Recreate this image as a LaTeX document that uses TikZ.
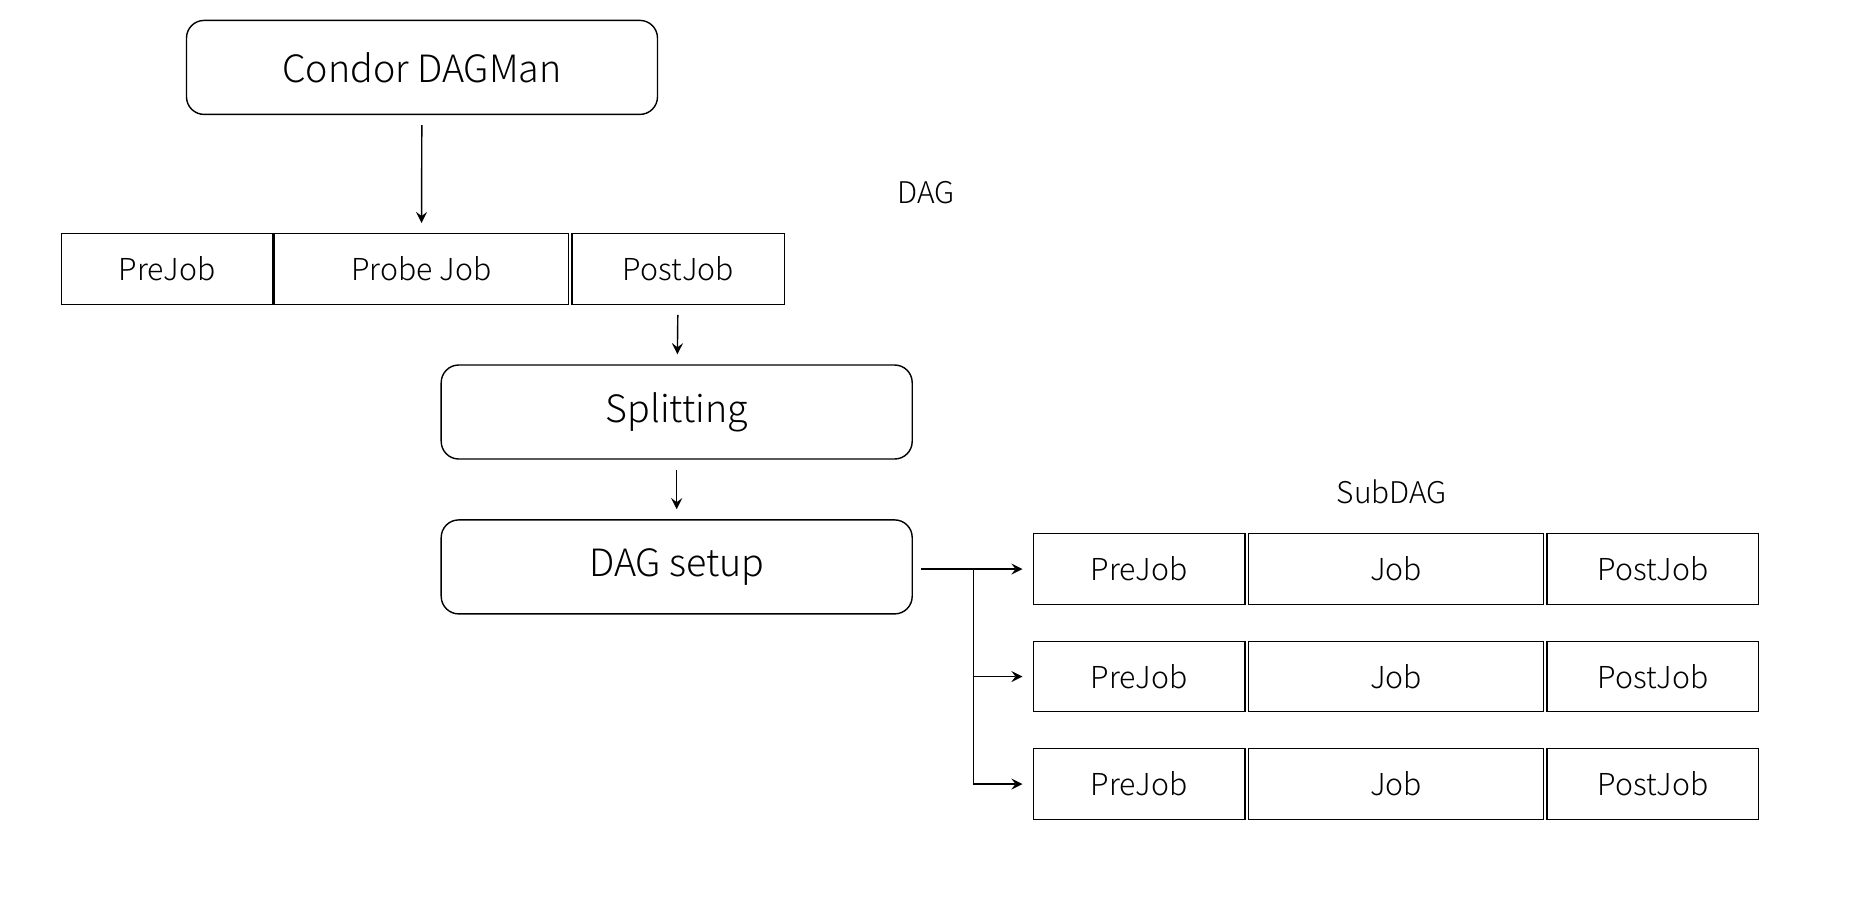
\documentclass[tikz,border=0pt]{standalone}
\usepackage{fontspec}
\setmainfont{Noto Sans CJK JP Light}
\usetikzlibrary{positioning, arrows, calc}
\tikzset{
	every edge/.style={
		draw, ->,>=stealth, thin, shorten <=0.1cm, shorten >=0.1cm
	}
}

\begin{document}
\begin{tikzpicture}[stage/.style={draw, thin, rounded corners=5pt, minimum width=4.71cm, minimum height=0.94cm, font=\fontsize{10.7}{13}\selectfont},
	job/.style={draw, thin, rectangle, minimum height=0.705cm, inner sep=0pt, font=\fontsize{8.6}{10}\selectfont},
	tag/.style={font=\fontsize{8.5}{10}\selectfont}]
	\useasboundingbox (0,0) rectangle (18.58,-9.2);
	\def\gap{0.02cm}
	% main chain
	\node[stage] (dagman) at (4.22,-0.674) {Condor DAGMan};
	\node[job, minimum width=2.943cm] (probe) at (4.214,-2.69) {Probe Job};
	\node[job, minimum width=2.116cm, left=0pt of probe] (pre) {PreJob};
	\node[job, minimum width=2.128cm, right=\gap of probe] (post) {PostJob};
	\node[tag] (dag) at (9.26,-1.93) {DAG};
	\node[stage] (split) at (6.767,-4.12) {Splitting};
	\node[stage] (setup) at (6.767,-5.669) {DAG setup};
	\draw (dagman) edge (probe);
	\draw (post) edge (split);
	\draw (split) edge (setup);
	% subdag rows
	\node[tag] (subdag) at (13.92,-4.92) {SubDAG};
	\node[job, minimum width=2.116cm] (pre1) at (11.39,-5.69) {PreJob};
	\node[job, minimum width=2.955cm, right=\gap of pre1] (job1) {Job};
	\node[job, minimum width=2.116cm, right=\gap of job1] (post1) {PostJob};
	\node[job, minimum width=2.116cm] (pre2) at (11.39,-6.765) {PreJob};
	\node[job, minimum width=2.955cm, right=\gap of pre2] (job2) {Job};
	\node[job, minimum width=2.116cm, right=\gap of job2] (post2) {PostJob};
	\node[job, minimum width=2.116cm] (pre3) at (11.39,-7.84) {PreJob};
	\node[job, minimum width=2.955cm, right=\gap of pre3] (job3) {Job};
	\node[job, minimum width=2.116cm, right=\gap of job3] (post3) {PostJob};
	\coordinate (fork) at ($(setup.east |- pre1)+(0.603,0)$);
	\draw (setup.east |- pre1) edge[shorten <=0.08cm] (pre1);
	\draw[thin] (fork) -- (fork |- pre3);
	\draw (fork |- pre2) edge[shorten <=0pt] (pre2);
	\draw (fork |- pre3) edge[shorten <=0pt] (pre3);
\end{tikzpicture}
\end{document}
